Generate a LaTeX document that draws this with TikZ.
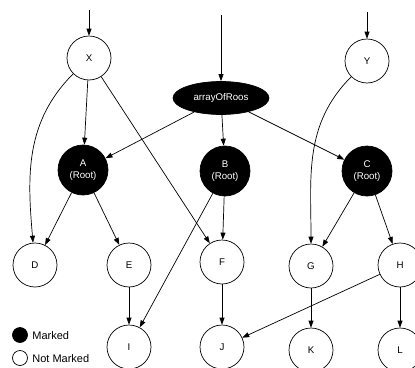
\documentclass[tikz,border=0pt]{standalone}
\usepackage{fontspec}
\setmainfont{Liberation Sans}
\usetikzlibrary{arrows.meta,shapes.geometric}

\begin{document}
\begin{tikzpicture}[x=1pt, y=-1pt, line width=0.7pt,
    >={Triangle[length=7pt,width=5pt]},
    unmarked/.style={draw, circle, minimum size=44pt, inner sep=0pt,
        font=\fontsize{9.7}{12}\selectfont},
    marked/.style={draw, circle, fill=black, text=white, minimum size=50pt,
        inner sep=0pt, align=center, font=\fontsize{9.7}{12}\selectfont},
    rootset/.style={draw, ellipse, fill=black, text=white, minimum width=96pt,
        minimum height=33pt, inner sep=0pt, font=\fontsize{9.7}{12}\selectfont},
    legenddot/.style={draw, circle, minimum size=15pt, inner sep=0pt},
    legendtext/.style={anchor=west, inner sep=0pt, font=\fontsize{11}{13}\selectfont}]
    \useasboundingbox (0,0) rectangle (415,367);

    % Raices
    \node[unmarked] (X) at (89,58) {X};
    \node[unmarked] (Y) at (367,61) {Y};
    \node[rootset] (roots) at (221,98) {arrayOfRoos};
    \coordinate (xtop) at (89,10);
    \coordinate (ytop) at (367,12);
    \coordinate (rtop) at (221,15);

    % Nodos marcados
    \node[marked] (A) at (83,170) {A\\(Root)};
    \node[marked] (B) at (225,171) {B\\(Root)};
    \node[marked] (C) at (367,171) {C\\(Root)};

    % Nodos sin marcar
    \node[unmarked] (D) at (35,265) {D};
    \node[unmarked] (E) at (129,265) {E};
    \node[unmarked] (F) at (222,262) {F};
    \node[unmarked] (G) at (311,266) {G};
    \node[unmarked] (H) at (400,265) {H};
    \node[unmarked] (I) at (129,347) {I};
    \node[unmarked] (J) at (222,347) {J};
    \node[unmarked] (K) at (311,350) {K};
    \node[unmarked] (L) at (400,350) {L};

    % Flechas de entrada
    \draw[->] (xtop) -- (X);
    \draw[->] (ytop) -- (Y);
    \draw[->] (rtop) -- (roots);

    % Flechas
    \draw[->] (X) to[out=225, in=95] (D);
    \draw[->] (X) -- (A);
    \draw[->] (X) -- (F);
    \draw[->] (Y) to[out=225, in=90] (G);
    \draw[->] (roots) -- (A);
    \draw[->] (roots) -- (B);
    \draw[->] (roots) -- (C);
    \draw[->] (A) -- (D);
    \draw[->] (A) -- (E);
    \draw[->] (B) -- (F);
    \draw[->] (B) -- (I);
    \draw[->] (C) -- (G);
    \draw[->] (C) -- (H);
    \draw[->] (E) -- (I);
    \draw[->] (F) -- (J);
    \draw[->] (G) -- (K);
    \draw[->] (H) -- (L);
    \draw[->] (H) -- (J);

    % Leyenda
    \node[legenddot, fill=black] (mkdot) at (20,335) {};
    \node[legendtext] (mklabel) at (32,336) {Marked};
    \node[legenddot] (nmdot) at (20,358) {};
    \node[legendtext] (nmlabel) at (32,359) {Not Marked};
\end{tikzpicture}
\end{document}
